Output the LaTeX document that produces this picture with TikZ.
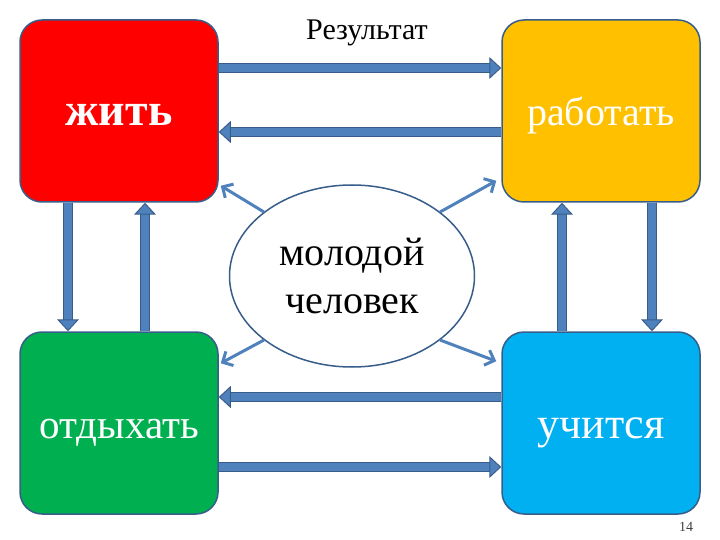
\documentclass[tikz,border=0pt]{standalone}
\usepackage{fontspec}
\setmainfont{Liberation Serif}
\usepackage{xcolor}
\usepackage{tikz}
\usetikzlibrary{shapes.geometric, arrows.meta, positioning, calc}
\definecolor{edgeblue}{RGB}{56,93,138}
\definecolor{arrowblue}{RGB}{79,129,189}
\definecolor{boxred}{RGB}{255,0,0}
\definecolor{boxorange}{RGB}{255,192,0}
\definecolor{boxgreen}{RGB}{0,176,80}
\definecolor{boxblue}{RGB}{0,176,240}
\tikzset{
    actbox/.style={rectangle, rounded corners=22pt, minimum width=198pt, minimum height=182pt,
        line width=1.5pt, draw=edgeblue, text=white, text height=36pt, text depth=6pt,
        inner sep=0pt, font=\fontsize{40}{44}\selectfont},
    manellipse/.style={ellipse, minimum width=245pt, minimum height=182pt, line width=1.5pt,
        draw=edgeblue, fill=white, align=center, font=\fontsize{40}{48}\selectfont},
    fatarrow/.style={line width=8pt, draw=arrowblue,
        -{Triangle[length=12pt, width=22pt, line width=1pt, color=edgeblue, fill=arrowblue]},
        preaction={draw=edgeblue, line width=10pt, -, shorten >=8pt}},
    thinarrow/.style={line width=3pt, draw=arrowblue, -{Straight Barb[length=8pt, width=16pt]}},
}
\begin{document}
\begin{tikzpicture}[x=1pt, y=-1pt]
    \useasboundingbox (0,0) rectangle (720,540);

    \node[actbox, fill=boxred, font=\fontsize{46}{48}\selectfont\bfseries] (zhit) at (119,111) {жить};
    \node[actbox, fill=boxorange] (rabotat) at (601,111) {работать};
    \node[actbox, fill=boxgreen, font=\fontsize{41}{44}\selectfont] (otdyh) at (119,423) {отдыхать};
    \node[actbox, fill=boxblue, font=\fontsize{44}{46}\selectfont] (uchit) at (601,423) {учится};
    \node[manellipse] (chelovek) at (352,276) {молодой\\человек};
    \node[font=\fontsize{30}{32}\selectfont, anchor=base] (result) at (367,40) {Результат};
    \node[font=\fontsize{14}{16}\selectfont, text=black!75] (pagenum) at (686,527) {14};

    \draw[fatarrow] ([yshift=43pt]zhit.east) -- ([yshift=43pt]rabotat.west);
    \draw[fatarrow] ([yshift=-21pt]rabotat.west) -- ([yshift=-21pt]zhit.east);
    \draw[fatarrow] ([yshift=26pt]uchit.west) -- ([yshift=26pt]otdyh.east);
    \draw[fatarrow] ([yshift=-44pt]otdyh.east) -- ([yshift=-44pt]uchit.west);

    \draw[fatarrow] ([xshift=-51pt]zhit.south) -- ([xshift=-51pt]otdyh.north);
    \draw[fatarrow] ([xshift=26pt]otdyh.north) -- ([xshift=26pt]zhit.south);
    \draw[fatarrow] ([xshift=-39pt]uchit.north) -- ([xshift=-39pt]rabotat.south);
    \draw[fatarrow] ([xshift=51pt]rabotat.south) -- ([xshift=51pt]uchit.north);

    \draw[thinarrow] (chelovek.144) -- ([xshift=2pt, yshift=17pt]zhit.south east);
    \draw[thinarrow] (chelovek.36) -- ([xshift=-5pt, yshift=22pt]rabotat.south west);
    \draw[thinarrow] (chelovek.216) -- ([xshift=2pt, yshift=-32pt]otdyh.north east);
    \draw[thinarrow] (chelovek.-36) -- ([xshift=-5pt, yshift=-30pt]uchit.north west);
\end{tikzpicture}
\end{document}
